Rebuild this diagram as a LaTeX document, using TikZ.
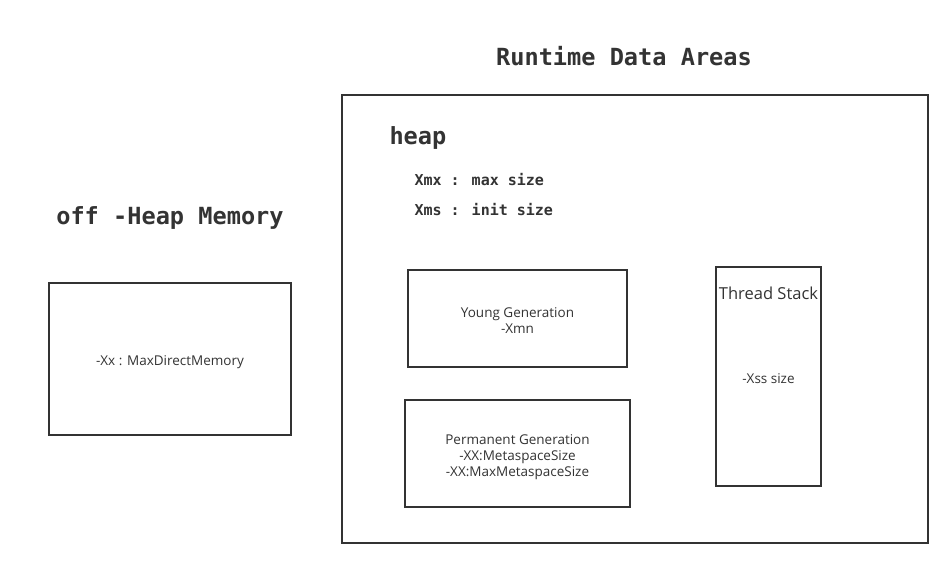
\documentclass[tikz,border=0pt]{standalone}
\usepackage{fontspec}
\setmainfont{Open Sans}
\newfontfamily\monob{DejaVu Sans Mono}
\definecolor{ink}{HTML}{333333}
\begin{document}
\begin{tikzpicture}[x=1pt,y=-1pt,
  box/.style={draw=ink,line width=1.6pt,inner sep=0pt},
  small/.style={font=\fontsize{13.5}{16}\selectfont,text=ink,align=center},
  title/.style={font=\monob\bfseries\fontsize{23.6}{26}\selectfont,text=ink},
  opt/.style={font=\monob\bfseries\fontsize{15}{18}\selectfont,text=ink,anchor=west}]
\useasboundingbox (0,0) rectangle (952,568);
% outer runtime box
\draw[box] (342,95) rectangle (928,543);
\node[title] (rt) at (624,56) {Runtime Data Areas};
\node[title] (off) at (170,218) {off -Heap Memory};
\node[title,anchor=west] (heap) at (386,138) {heap};
\node[opt] (xmx) at (411,180) {Xmx : max size};
\node[opt] (xms) at (411,210) {Xms : init size};
% off heap box
\draw[box] (49,283) rectangle (291,435);
\node[small] (dm) at (170,362) {-Xx : MaxDirectMemory};
% young
\draw[box] (408,270) rectangle (627,367);
\node[small] (yg) at (517.5,321) {Young Generation\\-Xmn};
% permanent
\draw[box] (405,400) rectangle (630,507);
\node[small] (pg) at (517.5,457) {Permanent Generation\\-XX:MetaspaceSize\\-XX:MaxMetaspaceSize};
% thread stack
\draw[box] (716,267) rectangle (821,486);
\node[small,font=\fontsize{16.5}{18}\selectfont] (ts) at (768.5,293) {Thread Stack};
\node[small] (xss) at (768.5,379) {-Xss size};
\end{tikzpicture}
\end{document}
